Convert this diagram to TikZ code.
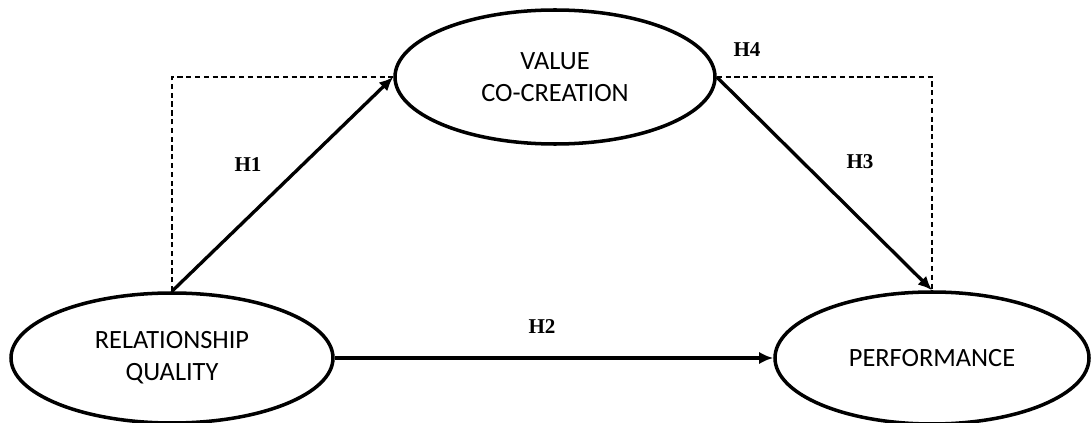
\documentclass[tikz,border=0pt]{standalone}
\usepackage{fontspec}
\setmainfont{Carlito}
\newfontfamily\hfont{Liberation Serif}
\usetikzlibrary{arrows.meta}
\usetikzlibrary{shapes.geometric}
\tikzset{>=latex}
\tikzstyle{construct} = [ellipse, draw=black, line width=2pt, inner sep=0, align=center, font=\fontsize{15}{18}\selectfont]
\tikzstyle{path} = [-{Latex[length=8pt,width=7pt]}, line width=1.9pt, draw=black]
\tikzstyle{medpath} = [-, dashed, line width=0.6pt, dash pattern=on 3pt off 2pt]
\tikzstyle{hyp} = [draw=none, inner sep=0, font=\hfont\bfseries\fontsize{12}{14}\selectfont]

\begin{document}
\begin{tikzpicture}
\useasboundingbox (0, 0) rectangle (21.82, -8.46);
\node [construct, minimum width=6.44cm, minimum height=2.6cm]  (RQ) at (3.44, -7.16) {RELATIONSHIP\\QUALITY};
\node [construct, minimum width=6.4cm, minimum height=2.68cm]  (VC) at (11.1, -1.54) {VALUE\\CO-CREATION};
\node [construct, minimum width=6.28cm, minimum height=2.64cm] (PF) at (18.64, -7.16) {PERFORMANCE};
\draw [medpath] (RQ.north) |- (VC.west);
\draw [medpath] (VC.east) -| (PF.north);
\draw [path] (RQ.north) to (VC.west);
\draw [path] (VC.east) to (PF.north);
\draw [path] (RQ.east) to (PF.west);
\node [hyp] (H1) at (4.96, -3.3) {H1};
\node [hyp] (H2) at (10.84, -6.54) {H2};
\node [hyp] (H3) at (17.2, -3.24) {H3};
\node [hyp] (H4) at (14.94, -1.0) {H4};
\end{tikzpicture}
\end{document}
